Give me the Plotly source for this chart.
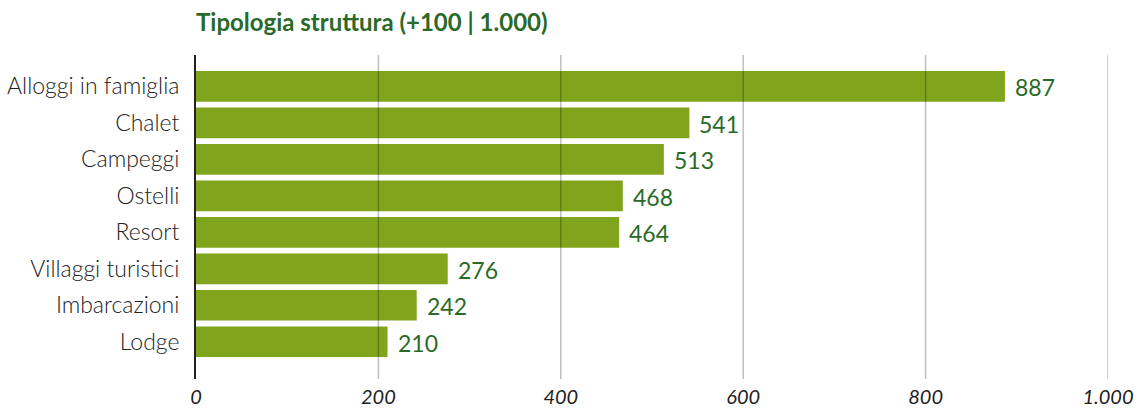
import plotly.graph_objects as go

# Accommodation types and their counts
categories = ["Alloggi in famiglia", "Chalet", "Campeggi", "Ostelli", "Resort",
              "Villaggi turistici", "Imbarcazioni", "Lodge"]
values = [887, 541, 513, 468, 464, 276, 242, 210]

# x-axis ticks (Italian thousands separator)
tick_vals = [0, 200, 400, 600, 800, 1000]
tick_text = ["0", "200", "400", "600", "800", "1.000"]

BAR = "#80a51c"
DARK_GREEN = "#2a6a28"
FONT = "Lato"

fig = go.Figure()
fig.add_trace(go.Bar(
    x=values,
    y=categories,
    orientation="h",
    marker=dict(color=BAR, line=dict(width=0)),
    hoverinfo="skip",
))

# value labels just right of each bar
for cat, val in zip(categories, values):
    fig.add_annotation(
        x=val, y=cat, text=str(val), showarrow=False,
        xanchor="left", yanchor="middle", xshift=8, yshift=-1,
        font=dict(family=FONT, size=23, color=DARK_GREEN),
    )

# vertical grid lines drawn over the bars
for tv in tick_vals[1:]:
    fig.add_shape(
        type="line", xref="x", yref="y domain",
        x0=tv, x1=tv, y0=0, y1=1,
        line=dict(color="rgba(0,0,0,0.25)", width=1.5),
        layer="above",
    )

fig.update_layout(
    width=1140, height=410,
    margin=dict(l=196, r=32, t=55, b=31),
    paper_bgcolor="white", plot_bgcolor="white",
    bargap=0.16,
    showlegend=False,
    font=dict(family=FONT, color="#222222"),
    title=dict(
        text="<b>Tipologia struttura (+100 | 1.000)</b>",
        x=0, xanchor="left", xref="paper",
        y=0.965, yanchor="top", yref="container",
        font=dict(family=FONT, size=24, color=DARK_GREEN),
    ),
    xaxis=dict(
        range=[0, 1000],
        tickvals=tick_vals, ticktext=tick_text,
        showgrid=False, zeroline=False, showline=False,
        ticks="", ticklabelstandoff=4, automargin=False,
        tickfont=dict(family=FONT, size=20, color="#222222", style="italic"),
        fixedrange=True,
    ),
    yaxis=dict(
        categoryorder="array", categoryarray=categories,
        range=[8.02, -0.86],
        showgrid=False, zeroline=False,
        showline=True, linecolor="#222222", linewidth=2,
        ticks="", ticklabelstandoff=10, automargin=False,
        tickfont=dict(family=FONT, size=23, color="#222222", weight=300),
        fixedrange=True,
    ),
)

fig.write_html("out.html")
